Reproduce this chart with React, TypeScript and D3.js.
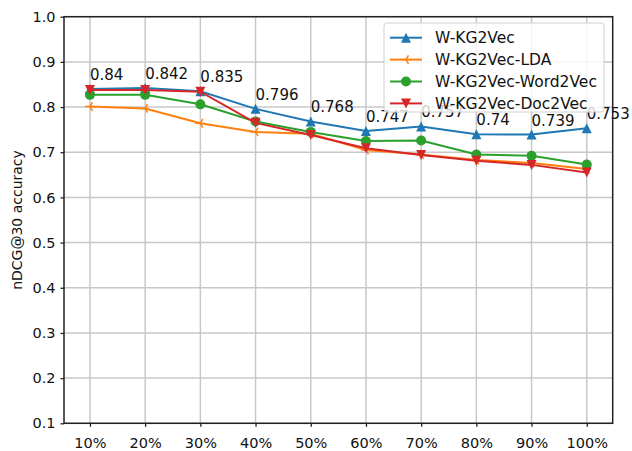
import { useEffect, useMemo, useRef } from 'react';
import * as d3 from 'd3';

// Tamanho do quadro e área do gráfico (px)
const WIDTH = 632;
const HEIGHT = 451;
const MARGIN = { top: 16.7, right: 19.3, bottom: 27.7, left: 64 };

const categories = ['10%', '20%', '30%', '40%', '50%', '60%', '70%', '80%', '90%', '100%'];
const percents = [10, 20, 30, 40, 50, 60, 70, 80, 90, 100];
const yTicks = [0.1, 0.2, 0.3, 0.4, 0.5, 0.6, 0.7, 0.8, 0.9, 1.0];

const wKg2Vec = [0.84, 0.842, 0.835, 0.796, 0.768, 0.747, 0.757, 0.74, 0.739, 0.753];
const wKg2VecLda = [0.801, 0.797, 0.764, 0.745, 0.741, 0.705, 0.695, 0.683, 0.676, 0.663];
const wKg2VecWord2Vec = [0.827, 0.827, 0.806, 0.768, 0.745, 0.725, 0.726, 0.695, 0.692, 0.673];
const wKg2VecDoc2Vec = [0.838, 0.838, 0.834, 0.765, 0.738, 0.709, 0.694, 0.681, 0.672, 0.655];

const seriesNames = ['W-KG2Vec', 'W-KG2Vec-LDA', 'W-KG2Vec-Word2Vec', 'W-KG2Vec-Doc2Vec'];

const FONT = '"DejaVu Sans", sans-serif';

type Marker = 'up' | 'tri' | 'circle' | 'down';

const series: { name: string; values: number[]; color: string; marker: Marker }[] = [
  { name: seriesNames[0], values: wKg2Vec, color: '#1f77b4', marker: 'up' },
  { name: seriesNames[1], values: wKg2VecLda, color: '#ff7f0e', marker: 'tri' },
  { name: seriesNames[2], values: wKg2VecWord2Vec, color: '#2ca02c', marker: 'circle' },
  { name: seriesNames[3], values: wKg2VecDoc2Vec, color: '#d62728', marker: 'down' },
];

function MarkerShape({ kind, x, y, color }: { kind: Marker; x: number; y: number; color: string }) {
  const s = 5;
  if (kind === 'circle') return <circle cx={x} cy={y} r={s} fill={color} />;
  if (kind === 'up')
    return <path d={`M${x},${y - s}L${x + s},${y + s}L${x - s},${y + s}Z`} fill={color} />;
  if (kind === 'down')
    return <path d={`M${x},${y + s}L${x + s},${y - s}L${x - s},${y - s}Z`} fill={color} />;
  const c = Math.sqrt(3) / 2;
  return (
    <path
      d={`M${x},${y}L${x - s},${y}M${x},${y}L${x + s * 0.5},${y - s * c}M${x},${y}L${x + s * 0.5},${y + s * c}`}
      stroke={color}
      strokeWidth={1.5}
      fill="none"
    />
  );
}

export default function App() {
  const axisBottomRef = useRef<SVGGElement>(null);
  const axisLeftRef = useRef<SVGGElement>(null);

  const innerWidth = WIDTH - MARGIN.left - MARGIN.right;
  const innerHeight = HEIGHT - MARGIN.top - MARGIN.bottom;

  const x = useMemo(() => d3.scaleLinear().domain([5.3, 104.7]).range([0, innerWidth]), [innerWidth]);
  const y = useMemo(() => d3.scaleLinear().domain([0.1, 1.0]).range([innerHeight, 0]), [innerHeight]);

  const line = d3
    .line<number>()
    .x((_, i) => x(percents[i]))
    .y((d) => y(d));

  useEffect(() => {
    const bottom = d3.select(axisBottomRef.current!);
    bottom.call(
      d3
        .axisBottom(x)
        .tickValues(percents)
        .tickSize(3.5)
        .tickPadding(8)
        .tickFormat((_, i) => categories[i])
    );
    const left = d3.select(axisLeftRef.current!);
    left.call(
      d3
        .axisLeft(y)
        .tickValues(yTicks)
        .tickSize(3.5)
        .tickPadding(5)
        .tickFormat(d3.format('.1f'))
    );
    [bottom, left].forEach((g) => {
      g.select('.domain').remove();
      g.selectAll('.tick line').attr('stroke', '#222').attr('stroke-width', 1.3);
      g.selectAll('.tick text')
        .attr('fill', '#111')
        .style('font-family', FONT)
        .style('font-size', '14.5px');
    });
    bottom.selectAll('.tick text').attr('dy', '0.9em');
  }, [x, y]);

  return (
    <>
      <style>{'body{margin:0}'}</style>
      <svg width={WIDTH} height={HEIGHT} style={{ display: 'block', background: '#fff' }}>
        <g transform={`translate(${MARGIN.left},${MARGIN.top})`}>
          {/* grelha */}
          {percents.map((p) => (
            <line key={`gx${p}`} x1={x(p)} x2={x(p)} y1={0} y2={innerHeight} stroke="#c8c8c8" strokeWidth={1.5} />
          ))}
          {yTicks.map((t) => (
            <line key={`gy${t}`} x1={0} x2={innerWidth} y1={y(t)} y2={y(t)} stroke="#c8c8c8" strokeWidth={1.5} />
          ))}

          {series.map((s) => (
            <g key={s.name}>
              <path d={line(s.values) ?? ''} fill="none" stroke={s.color} strokeWidth={2} />
              {s.values.map((v, i) => (
                <MarkerShape key={i} kind={s.marker} x={x(percents[i])} y={y(v)} color={s.color} />
              ))}
            </g>
          ))}

          {/* rótulos da série principal */}
          {wKg2Vec.map((v, i) => (
            <text
              key={`lbl${i}`}
              x={x(percents[i])}
              y={y(v + 0.02)}
              fontFamily={FONT}
              fontSize={15}
              fill="#111"
            >
              {String(v)}
            </text>
          ))}

          {/* moldura */}
          <rect x={0} y={0} width={innerWidth} height={innerHeight} fill="none" stroke="#222" strokeWidth={1.5} />

          <g ref={axisBottomRef} transform={`translate(0,${innerHeight})`} />
          <g ref={axisLeftRef} />

          {/* legenda */}
          <g transform={`translate(${innerWidth - 228.7},6.3)`}>
            <rect x={0} y={0} width={220} height={89} rx={3} fill="#fff" fillOpacity={0.8} stroke="#d0d0d0" />
            {series.map((s, i) => (
              <g key={s.name} transform={`translate(0,${14.7 + i * 21.9})`}>
                <line x1={6} x2={38} y1={0} y2={0} stroke={s.color} strokeWidth={2} />
                <MarkerShape kind={s.marker} x={22} y={0} color={s.color} />
                <text x={51} y={0} dy="0.35em" fontFamily={FONT} fontSize={15.5} fill="#111">
                  {s.name}
                </text>
              </g>
            ))}
          </g>
        </g>
        <text
          transform={`translate(22,${MARGIN.top + innerHeight / 2}) rotate(-90)`}
          textAnchor="middle"
          fontFamily={FONT}
          fontSize={14}
          fill="#111"
        >
          nDCG@30 accuracy
        </text>
      </svg>
    </>
  );
}
